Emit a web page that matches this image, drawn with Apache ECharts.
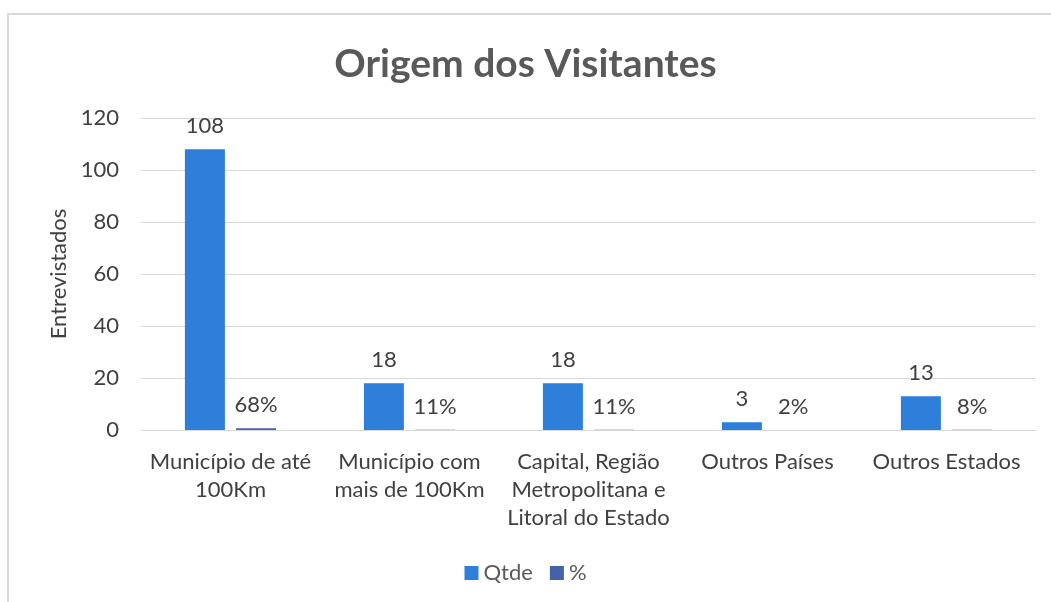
<!DOCTYPE html>
<html>
<head>
<meta charset="utf-8">
<script src="https://cdn.jsdelivr.net/npm/echarts@6/dist/echarts.min.js"></script>
<style>
html,body{margin:0;padding:0;background:#fff;}
#frame{position:absolute;left:7px;top:13px;right:0;bottom:0;border-left:2px solid #d9d9d9;border-top:2px solid #d9d9d9;}
#chart{position:absolute;left:0;top:0;width:1051px;height:602px;}
</style>
</head>
<body>
<div id="frame"></div>
<div id="chart"></div>
<script>
const categories = ["Município de até\n100Km", "Município com\nmais de 100Km", "Capital, Região\nMetropolitana e\nLitoral do Estado", "Outros Países", "Outros Estados"];
const qtde = [108, 18, 18, 3, 13];
const pct = [0.68, 0.11, 0.11, 0.02, 0.08];
const yTicks = [0, 20, 40, 60, 80, 100, 120];

const FONT = "Lato, 'Open Sans', sans-serif";
const FS = 22;
const chart = echarts.init(document.getElementById('chart'), null, {renderer: 'canvas'});
chart.setOption({
  backgroundColor: 'transparent',
  animation: false,
  textStyle: {fontFamily: FONT},
  title: {
    text: 'Origem dos Visitantes',
    left: 'center', top: 40,
    textStyle: {fontSize: 39, fontWeight: 'bold', color: '#595959', fontFamily: FONT}
  },
  legend: {
    bottom: 13, left: 'center',
    itemWidth: 14, itemHeight: 14, itemGap: 17,
    icon: 'rect',
    textStyle: {fontSize: FS, color: '#595959', fontFamily: FONT},
    data: ['Qtde', '%']
  },
  grid: {left: 141, right: 15, top: 118, bottom: 172, containLabel: false},
  xAxis: {
    type: 'category',
    data: categories,
    axisLine: {lineStyle: {color: '#d9d9d9', width: 1}},
    axisTick: {show: false},
    axisLabel: {fontSize: FS, color: '#404040', fontFamily: FONT, lineHeight: 28, margin: 18, interval: 0}
  },
  yAxis: {
    type: 'value',
    min: yTicks[0], max: yTicks[yTicks.length - 1], interval: 20,
    name: 'Entrevistados',
    nameLocation: 'middle',
    nameGap: 70,
    nameRotate: 90,
    nameTextStyle: {fontSize: FS, color: '#404040', fontFamily: FONT},
    axisLine: {show: false},
    axisTick: {show: false},
    splitLine: {lineStyle: {color: '#d9d9d9', width: 1}},
    axisLabel: {fontSize: FS, color: '#404040', fontFamily: FONT, margin: 22}
  },
  series: [
    {
      name: 'Qtde', type: 'bar', data: qtde,
      barWidth: 40, barGap: '28%',
      itemStyle: {color: '#2e7fd9'},
      label: {show: true, position: 'top', distance: 12, fontSize: FS, color: '#404040', fontFamily: FONT}
    },
    {
      name: '%', type: 'bar', data: pct,
      barWidth: 40,
      itemStyle: {color: '#4462aa'},
      label: {show: true, position: 'top', distance: 12, fontSize: FS, color: '#404040', fontFamily: FONT,
        formatter: p => Math.round(p.value * 100) + '%'}
    }
  ]
});
</script>
</body>
</html>
